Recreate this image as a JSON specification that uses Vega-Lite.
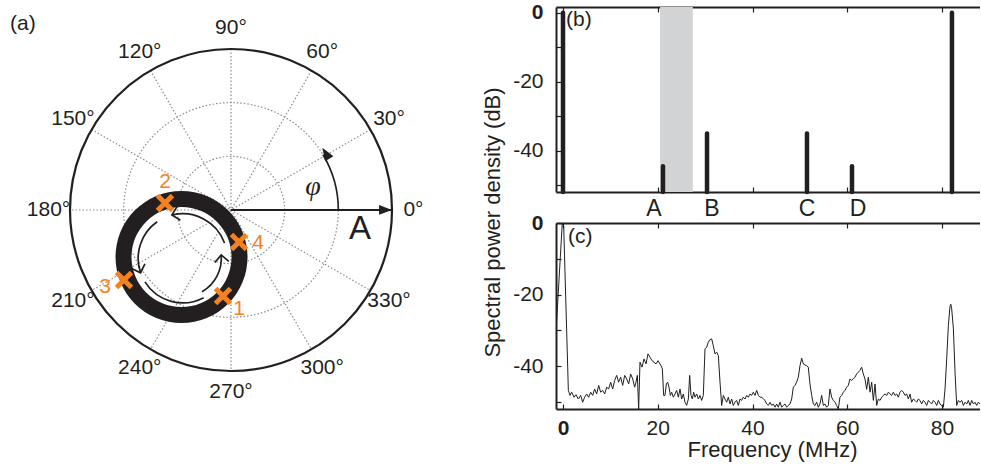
{
"$schema": "https://vega.github.io/schema/vega-lite/v6.json",
"background": "white",
"padding": {"top": 1, "left": 0, "right": 0, "bottom": 0},
"autosize": {"type": "pad"},
"spacing": 86,
"bounds": "flush",
"hconcat": [
{
"width": 470, "height": 461,
"encoding": {
 "x": {"field": "x", "type": "quantitative", "scale": {"domain": [-4.3043, 4.4534], "nice": false, "zero": false}, "axis": null},
 "y": {"field": "y", "type": "quantitative", "scale": {"domain": [-4.8075, 3.7826], "nice": false, "zero": false}, "axis": null}
},
"layer": [
 {"data": {"values": [
   {"x": 3, "y": 0, "x2": -3, "y2": 0},
   {"x": 2.598, "y": 1.5, "x2": -2.598, "y2": -1.5},
   {"x": 1.5, "y": 2.598, "x2": -1.5, "y2": -2.598},
   {"x": 0, "y": 3, "x2": 0, "y2": -3},
   {"x": -1.5, "y": 2.598, "x2": 1.5, "y2": -2.598},
   {"x": -2.598, "y": 1.5, "x2": 2.598, "y2": -1.5}]},
  "mark": {"type": "rule", "stroke": "#8c8c8c", "strokeDash": [1.5, 2], "strokeWidth": 1.2},
  "encoding": {"x2": {"field": "x2"}, "y2": {"field": "y2"}}},
 {"data": {"values": [{"x": 0, "y": 0, "r": 1, "t1": 0, "t2": 360}, {"x": 0, "y": 0, "r": 2, "t1": 0, "t2": 360}]},
  "mark": {"type": "arc", "filled": false, "stroke": "#8c8c8c", "strokeDash": [1.5, 2], "strokeWidth": 1.2},
  "encoding": {
   "theta": {"field": "t1", "type": "quantitative", "stack": null, "scale": {"domain": [90, -270], "range": [0, 6.283185307], "nice": false, "zero": false}},
   "theta2": {"field": "t2"},
   "radius": {"field": "r", "type": "quantitative", "scale": {"type": "linear", "domain": [0, 3], "range": [0, 161], "nice": false, "zero": false}}}},
 {"data": {"values": [{"x": 0, "y": 0, "r": 3, "t1": 0, "t2": 360}]},
  "mark": {"type": "arc", "filled": false, "stroke": "#231f20", "strokeWidth": 2.2},
  "encoding": {
   "theta": {"field": "t1", "type": "quantitative", "stack": null, "scale": {"domain": [90, -270], "range": [0, 6.283185307], "nice": false, "zero": false}},
   "theta2": {"field": "t2"},
   "radius": {"field": "r", "type": "quantitative", "scale": {"type": "linear", "domain": [0, 3], "range": [0, 161], "nice": false, "zero": false}}}},
 {"data": {"values": [{"x": -0.922, "y": -0.876, "ri": 0.932, "ro": 1.23, "t1": 0, "t2": 360}]},
  "mark": {"type": "arc", "fill": "#231f20", "stroke": null},
  "encoding": {
   "theta": {"field": "t1", "type": "quantitative", "stack": null, "scale": {"domain": [90, -270], "range": [0, 6.283185307], "nice": false, "zero": false}},
   "theta2": {"field": "t2"},
   "radius": {"field": "ro", "type": "quantitative", "scale": {"type": "linear", "domain": [0, 3], "range": [0, 161], "nice": false, "zero": false}},
   "radius2": {"field": "ri"}}},
 {"data": {"values": [
   {"x": -0.9, "y": -0.9, "r": 0.83, "t1": 20, "t2": 104},
   {"x": -0.9, "y": -0.9, "r": 0.83, "t1": 125, "t2": 199},
   {"x": -0.9, "y": -0.9, "r": 0.83, "t1": 212, "t2": 298},
   {"x": -0.9, "y": -0.9, "r": 0.72, "t1": 300, "t2": 365}]},
  "mark": {"type": "arc", "filled": false, "stroke": "#231f20", "strokeWidth": 1.7},
  "encoding": {
   "theta": {"field": "t1", "type": "quantitative", "stack": null, "scale": {"domain": [90, -270], "range": [0, 6.283185307], "nice": false, "zero": false}},
   "theta2": {"field": "t2"},
   "radius": {"field": "r", "type": "quantitative", "scale": {"type": "linear", "domain": [0, 3], "range": [0, 161], "nice": false, "zero": false}},
   "radius2": {"field": "r"}}},
 {"data": {"values": [{"x": -1.1008, "y": -0.0947, "rot": 166}, {"x": -1.6848, "y": -1.1702, "rot": 71}, {"x": -0.1827, "y": -0.8372, "rot": 265}]},
  "mark": {"type": "point", "shape": "M-1,-1L0,0L-1,1", "size": 196, "filled": false, "stroke": "#231f20", "strokeWidth": 1.7, "opacity": 1},
  "encoding": {"angle": {"field": "rot", "type": "quantitative", "scale": null}}},
 {"data": {"values": [{"x": 0, "y": 0, "x2": 2.88, "y2": 0}]},
  "mark": {"type": "rule", "stroke": "#231f20", "strokeWidth": 1.6},
  "encoding": {"x2": {"field": "x2"}, "y2": {"field": "y2"}}},
 {"data": {"values": [{"x": 0, "y": 0, "r": 2, "t1": 0, "t2": 31}]},
  "mark": {"type": "arc", "filled": false, "stroke": "#231f20", "strokeWidth": 1.6},
  "encoding": {
   "theta": {"field": "t1", "type": "quantitative", "stack": null, "scale": {"domain": [90, -270], "range": [0, 6.283185307], "nice": false, "zero": false}},
   "theta2": {"field": "t2"},
   "radius": {"field": "r", "type": "quantitative", "scale": {"type": "linear", "domain": [0, 3], "range": [0, 161], "nice": false, "zero": false}},
   "radius2": {"field": "r"}}},
 {"data": {"values": [{"x": 2.88, "y": 0, "rot": 0}, {"x": 1.767, "y": 1.057, "rot": 238}]},
  "mark": {"type": "point", "shape": "M1,0L-1,-0.75L-1,0.75Z", "size": 169, "filled": true, "fill": "#231f20", "strokeWidth": 0, "opacity": 1},
  "encoding": {"angle": {"field": "rot", "type": "quantitative", "scale": null}}},
 {"data": {"values": [{"x": -0.149, "y": -1.602}, {"x": -1.23, "y": 0.13}, {"x": -1.994, "y": -1.304}, {"x": 0.149, "y": -0.596}]},
  "mark": {"type": "point", "shape": "M-1,-1L1,1M1,-1L-1,1", "size": 225, "filled": false, "stroke": "#f5821f", "strokeWidth": 5, "opacity": 1}},
 {"data": {"values": [{"x": 0.149, "y": -1.845, "t": "1"}, {"x": -1.23, "y": 0.522, "t": "2"}, {"x": -2.348, "y": -1.435, "t": "3"}, {"x": 0.503, "y": -0.615, "t": "4"}]},
  "mark": {"type": "text", "font": "Liberation Sans", "fontSize": 21, "fill": "#f5821f", "align": "center", "baseline": "middle"},
  "encoding": {"text": {"field": "t"}}},
 {"data": {"values": [
   {"x": 0, "y": 0, "a": 0, "t": "0°"}, {"x": 0, "y": 0, "a": 30, "t": "30°"}, {"x": 0, "y": 0, "a": 60, "t": "60°"},
   {"x": 0, "y": 0, "a": 90, "t": "90°"}, {"x": 0, "y": 0, "a": 120, "t": "120°"}, {"x": 0, "y": 0, "a": 150, "t": "150°"},
   {"x": 0, "y": 0, "a": 180, "t": "180°"}, {"x": 0, "y": 0, "a": 210, "t": "210°"}, {"x": 0, "y": 0, "a": 240, "t": "240°"},
   {"x": 0, "y": 0, "a": 270, "t": "270°"}, {"x": 0, "y": 0, "a": 300, "t": "300°"}, {"x": 0, "y": 0, "a": 330, "t": "330°"}]},
  "mark": {"type": "text", "font": "Liberation Sans", "fontSize": 21, "fill": "#231f20", "align": "center", "baseline": "middle"},
  "encoding": {
   "theta": {"field": "a", "type": "quantitative", "stack": null, "scale": {"domain": [90, -270], "range": [0, 6.283185307], "nice": false, "zero": false}},
   "radius": {"datum": 3.4, "type": "quantitative", "scale": {"type": "linear", "domain": [0, 3], "range": [0, 161], "nice": false, "zero": false}},
   "text": {"field": "t"}}},
 {"data": {"values": [{"x": 2.404, "y": -0.354, "t": "A"}]},
  "mark": {"type": "text", "font": "Liberation Sans", "fontSize": 33, "fill": "#231f20", "align": "center", "baseline": "middle"},
  "encoding": {"text": {"field": "t"}}},
 {"data": {"values": [{"x": 1.528, "y": 0.4286, "t": "φ"}]},
  "mark": {"type": "text", "font": "Liberation Serif", "fontStyle": "italic", "fontSize": 28, "fill": "#231f20", "align": "center", "baseline": "middle"},
  "encoding": {"text": {"field": "t"}}},
 {"data": {"values": [{"x": -4.118, "y": 3.466, "t": "(a)"}]},
  "mark": {"type": "text", "font": "Liberation Sans", "fontSize": 21, "fill": "#231f20", "align": "left", "baseline": "middle"},
  "encoding": {"text": {"field": "t"}}}
]
},
{
"vconcat": [
 {
 "width": 424, "height": 185,
 "layer": [
  {"data": {"values": [{"f1": 20.5, "f2": 27.4}]},
   "mark": {"type": "rect", "color": "#d1d3d4"},
   "encoding": {
    "x": {"field": "f1", "type": "quantitative", "scale": {"domain": [-1.478, 88.02], "nice": false, "zero": false},
          "axis": {"orient": "bottom", "values": [0, 20, 40, 60, 80], "labels": false, "title": null, "tickSize": -5}},
    "x2": {"field": "f2"},
    "y": {"datum": 1.65, "type": "quantitative", "scale": {"domain": [-52, 1.65], "nice": false, "zero": false}, "axis": null},
    "y2": {"datum": -52}}},
  {"data": {"values": [{"f": 0, "db": 0}, {"f": 21.1, "db": -44.5}, {"f": 30.4, "db": -35}, {"f": 51.5, "db": -35}, {"f": 61.0, "db": -44.5}, {"f": 82.1, "db": 0}]},
   "mark": {"type": "rule", "color": "#231f20", "strokeWidth": 4.5, "strokeCap": "round"},
   "encoding": {
    "x": {"field": "f", "type": "quantitative", "scale": {"domain": [-1.478, 88.02], "nice": false, "zero": false},
          "axis": {"orient": "top", "values": [0, 20, 40, 60, 80], "labels": false, "title": null, "tickSize": -5}},
    "y": {"field": "db", "type": "quantitative", "scale": {"domain": [-52, 1.65], "nice": false, "zero": false},
          "axis": {"orient": "left", "values": [0, -10, -20, -30, -40, -50], "labelExpr": "datum.value % 20 === 0 ? '' + datum.value : ''",
                   "labelFontWeight": {"condition": {"test": "datum.value === 0", "value": "bold"}, "value": "normal"},
                   "tickSize": -5, "labelPadding": 18,
                   "title": "Spectral power density (dB)", "titleX": -64, "titleY": 215, "titleBaseline": "middle", "titleAlign": "center", "titleAngle": -90}},
    "y2": {"datum": -52}}},
  {"data": {"values": [{"f": 19.2, "t": "A"}, {"f": 31.45, "t": "B"}, {"f": 51.5, "t": "C"}, {"f": 62.27, "t": "D"}]},
   "mark": {"type": "text", "font": "Liberation Sans", "fontSize": 23, "fill": "#231f20", "align": "center", "baseline": "middle"},
   "encoding": {
    "x": {"field": "f", "type": "quantitative", "scale": {"domain": [-1.478, 88.02], "nice": false, "zero": false}, "axis": null},
    "y": {"datum": -56.8, "type": "quantitative", "scale": {"domain": [-52, 1.65], "nice": false, "zero": false}, "axis": null},
    "text": {"field": "t"}}},
  {"data": {"values": [{}]},
   "mark": {"type": "text", "text": "(b)", "font": "Liberation Sans", "fontSize": 21, "fill": "#231f20", "align": "left", "baseline": "middle"},
   "encoding": {
    "x": {"datum": 0.63, "type": "quantitative", "scale": {"domain": [-1.478, 88.02], "nice": false, "zero": false}, "axis": null},
    "y": {"datum": -2.0, "type": "quantitative", "scale": {"domain": [-52, 1.65], "nice": false, "zero": false}, "axis": null}}}
 ],
 "resolve": {"axis": {"x": "independent", "y": "independent"}}
 },
 {
 "width": 424, "height": 186,
 "layer": [
  {"data": {"values": [
{"f":-1.478,"db":-30.5},{"f":-0.15,"db":0},{"f":0.15,"db":-1},{"f":1.13,"db":-46.8},{"f":1.48,"db":-48.2},{"f":1.83,"db":-47.3},
{"f":2.32,"db":-48.7},{"f":2.74,"db":-48.0},{"f":3.24,"db":-49.2},{"f":3.73,"db":-48.2},{"f":4.15,"db":-50.1},{"f":4.57,"db":-48.7},
{"f":5.00,"db":-47.8},{"f":5.42,"db":-48.7},{"f":5.84,"db":-47.3},{"f":6.26,"db":-48.2},{"f":6.68,"db":-46.4},{"f":7.11,"db":-47.8},
{"f":7.53,"db":-45.4},{"f":7.95,"db":-47.3},{"f":8.37,"db":-46.8},{"f":8.80,"db":-47.8},{"f":9.22,"db":-45.9},{"f":9.64,"db":-46.4},
{"f":10.06,"db":-44.5},{"f":10.48,"db":-46.4},{"f":10.91,"db":-44.0},{"f":11.33,"db":-42.6},{"f":11.75,"db":-44.5},{"f":12.17,"db":-43.1},
{"f":12.60,"db":-45.4},{"f":13.02,"db":-42.6},{"f":13.44,"db":-43.6},{"f":13.86,"db":-45.0},{"f":14.28,"db":-42.2},{"f":14.71,"db":-43.6},
{"f":15.13,"db":-45.9},{"f":15.41,"db":-44.5},{"f":15.69,"db":-42.6},{"f":15.97,"db":-52},{"f":16.25,"db":-38.9},{"f":16.68,"db":-40.3},
{"f":17.10,"db":-38.0},{"f":17.52,"db":-39.4},{"f":17.94,"db":-36.6},{"f":18.36,"db":-37.5},{"f":18.79,"db":-38.5},{"f":19.21,"db":-38.9},
{"f":19.63,"db":-39.4},{"f":20.05,"db":-38.5},{"f":20.47,"db":-39.4},{"f":20.69,"db":-39.9},{"f":20.97,"db":-40.8},{"f":21.25,"db":-48.2},
{"f":21.53,"db":-48.2},{"f":21.81,"db":-45.0},{"f":22.09,"db":-44.5},{"f":22.38,"db":-45.9},{"f":22.66,"db":-48.2},{"f":22.94,"db":-47.3},
{"f":23.29,"db":-48.7},{"f":23.64,"db":-47.8},{"f":23.99,"db":-46.8},{"f":24.35,"db":-48.7},{"f":24.70,"db":-46.4},{"f":25.05,"db":-49.2},
{"f":25.40,"db":-47.8},{"f":25.75,"db":-50.1},{"f":26.10,"db":-51.0},{"f":26.46,"db":-49.2},{"f":26.74,"db":-42.6},{"f":27.02,"db":-48.2},
{"f":27.30,"db":-49.2},{"f":27.58,"db":-47.3},{"f":27.86,"db":-48.7},{"f":28.22,"db":-47.8},{"f":28.57,"db":-49.2},{"f":28.92,"db":-48.2},
{"f":29.27,"db":-49.6},{"f":29.62,"db":-48.2},{"f":29.97,"db":-35.2},{"f":30.33,"db":-34.7},{"f":30.68,"db":-33.3},{"f":31.03,"db":-32.6},
{"f":31.38,"db":-32.4},{"f":31.73,"db":-34.3},{"f":32.08,"db":-36.6},{"f":32.44,"db":-36.1},{"f":32.79,"db":-37.1},{"f":33.14,"db":-44.5},
{"f":33.49,"db":-51.0},{"f":33.84,"db":-48.2},{"f":34.19,"db":-49.2},{"f":34.55,"db":-50.1},{"f":34.90,"db":-48.7},{"f":35.25,"db":-50.6},
{"f":35.60,"db":-49.2},{"f":35.95,"db":-51.0},{"f":36.31,"db":-50.1},{"f":36.66,"db":-49.6},{"f":37.01,"db":-51.0},{"f":37.36,"db":-49.2},
{"f":37.71,"db":-49.6},{"f":38.06,"db":-48.7},{"f":38.42,"db":-49.2},{"f":38.77,"db":-48.2},{"f":39.12,"db":-48.7},{"f":39.47,"db":-47.8},
{"f":39.82,"db":-48.2},{"f":40.18,"db":-47.3},{"f":40.53,"db":-48.2},{"f":40.88,"db":-46.8},{"f":41.23,"db":-48.2},{"f":41.58,"db":-48.7},
{"f":41.94,"db":-48.7},{"f":42.29,"db":-49.2},{"f":42.64,"db":-49.6},{"f":42.99,"db":-50.6},{"f":43.34,"db":-51.0},{"f":43.69,"db":-50.1},
{"f":44.05,"db":-51.0},{"f":44.40,"db":-50.6},{"f":44.75,"db":-51.5},{"f":45.10,"db":-50.6},{"f":45.45,"db":-51.5},{"f":45.80,"db":-50.1},
{"f":46.16,"db":-51.5},{"f":46.51,"db":-51.0},{"f":46.86,"db":-50.6},{"f":47.21,"db":-51.5},{"f":47.56,"db":-51.0},{"f":47.91,"db":-50.6},
{"f":48.27,"db":-49.2},{"f":48.62,"db":-45.9},{"f":48.97,"db":-45.4},{"f":49.32,"db":-44.5},{"f":49.67,"db":-43.1},{"f":50.02,"db":-39.9},
{"f":50.38,"db":-37.8},{"f":50.73,"db":-39.4},{"f":51.08,"db":-39.7},{"f":51.43,"db":-39.9},{"f":51.78,"db":-40.3},{"f":52.13,"db":-45.0},
{"f":52.49,"db":-48.2},{"f":52.84,"db":-50.6},{"f":53.19,"db":-51.0},{"f":53.54,"db":-50.1},{"f":53.89,"db":-51.5},{"f":54.24,"db":-50.6},
{"f":54.60,"db":-48.2},{"f":54.95,"db":-51.0},{"f":55.30,"db":-50.6},{"f":55.65,"db":-51.5},{"f":56.00,"db":-51.0},{"f":56.35,"db":-46.4},
{"f":56.71,"db":-48.7},{"f":57.06,"db":-49.6},{"f":57.41,"db":-50.1},{"f":57.76,"db":-51.0},{"f":58.11,"db":-52},{"f":58.46,"db":-48.7},
{"f":58.82,"db":-48.2},{"f":59.17,"db":-47.3},{"f":59.52,"db":-46.8},{"f":59.87,"db":-45.9},{"f":60.22,"db":-45.4},{"f":60.58,"db":-43.6},
{"f":60.93,"db":-44.0},{"f":61.28,"db":-43.6},{"f":61.63,"db":-43.1},{"f":61.98,"db":-42.2},{"f":62.33,"db":-41.7},{"f":62.69,"db":-41.2},
{"f":63.04,"db":-40.3},{"f":63.39,"db":-42.2},{"f":63.74,"db":-43.6},{"f":64.10,"db":-46.5},{"f":64.45,"db":-43.1},{"f":64.81,"db":-47.3},
{"f":65.16,"db":-44.5},{"f":65.51,"db":-49.6},{"f":65.86,"db":-45.0},{"f":66.21,"db":-51.0},{"f":66.56,"db":-49.2},{"f":66.92,"db":-49.6},
{"f":67.27,"db":-48.7},{"f":67.62,"db":-48.2},{"f":67.97,"db":-47.8},{"f":68.32,"db":-48.2},{"f":68.68,"db":-47.3},{"f":69.03,"db":-47.8},
{"f":69.38,"db":-48.2},{"f":69.73,"db":-47.3},{"f":70.08,"db":-48.2},{"f":70.43,"db":-47.8},{"f":70.79,"db":-48.7},{"f":71.14,"db":-47.3},
{"f":71.49,"db":-46.8},{"f":71.84,"db":-47.3},{"f":72.19,"db":-48.2},{"f":72.55,"db":-47.8},{"f":72.90,"db":-49.2},{"f":73.25,"db":-47.8},
{"f":73.60,"db":-50.1},{"f":73.95,"db":-49.2},{"f":74.30,"db":-49.6},{"f":74.66,"db":-50.1},{"f":75.01,"db":-49.2},{"f":75.36,"db":-49.6},
{"f":75.71,"db":-50.6},{"f":76.06,"db":-49.6},{"f":76.42,"db":-50.1},{"f":76.77,"db":-51.0},{"f":77.12,"db":-49.6},{"f":77.47,"db":-50.1},
{"f":77.82,"db":-50.6},{"f":78.17,"db":-49.6},{"f":78.53,"db":-50.1},{"f":78.88,"db":-51.0},{"f":79.23,"db":-49.6},{"f":79.58,"db":-50.6},
{"f":79.93,"db":-51.0},{"f":80.29,"db":-51.5},{"f":80.64,"db":-46.4},{"f":80.99,"db":-38.0},{"f":81.34,"db":-28.7},{"f":81.69,"db":-23.3},
{"f":81.85,"db":-22.7},{"f":82.05,"db":-24.0},{"f":82.40,"db":-29.6},{"f":82.75,"db":-41.7},{"f":83.10,"db":-51.0},{"f":83.45,"db":-49.6},
{"f":83.81,"db":-50.1},{"f":84.16,"db":-49.6},{"f":84.51,"db":-51.0},{"f":84.86,"db":-50.1},{"f":85.21,"db":-50.6},{"f":85.56,"db":-49.6},
{"f":85.92,"db":-51.0},{"f":86.27,"db":-49.6},{"f":86.62,"db":-50.6},{"f":86.97,"db":-50.1},{"f":87.32,"db":-51.0},{"f":87.68,"db":-50.1},
{"f":88.03,"db":-50.6}
   ]},
   "mark": {"type": "line", "color": "#231f20", "strokeWidth": 1, "clip": true},
   "encoding": {
    "x": {"field": "f", "type": "quantitative", "scale": {"domain": [-1.478, 88.02], "nice": false, "zero": false},
          "axis": {"orient": "bottom", "values": [0, 20, 40, 60, 80], "labelExpr": "'' + datum.value",
                   "labelFontWeight": {"condition": {"test": "datum.value === 0", "value": "bold"}, "value": "normal"},
                   "tickSize": -5, "labelPadding": 13,
                   "title": "Frequency (MHz)", "titleX": 216, "titleY": 40, "titleBaseline": "middle", "titleAlign": "center"}},
    "y": {"field": "db", "type": "quantitative", "scale": {"domain": [-52, 0], "nice": false, "zero": false},
          "axis": {"orient": "left", "values": [0, -10, -20, -30, -40, -50], "labelExpr": "datum.value % 20 === 0 ? '' + datum.value : ''",
                   "labelFontWeight": {"condition": {"test": "datum.value === 0", "value": "bold"}, "value": "normal"},
                   "tickSize": -5, "labelPadding": 18, "title": null}}}},
  {"data": {"values": [{}]},
   "mark": {"type": "text", "text": "(c)", "font": "Liberation Sans", "fontSize": 21, "fill": "#231f20", "align": "left", "baseline": "middle"},
   "encoding": {
    "x": {"datum": 1.06, "type": "quantitative", "scale": {"domain": [-1.478, 88.02], "nice": false, "zero": false},
          "axis": {"orient": "top", "values": [0, 20, 40, 60, 80], "labels": false, "title": null, "tickSize": -5}},
    "y": {"datum": -3.9, "type": "quantitative", "scale": {"domain": [-52, 0], "nice": false, "zero": false}, "axis": null}}}
 ],
 "resolve": {"axis": {"x": "independent", "y": "independent"}}
 }
],
"spacing": 31,
"bounds": "flush"
}
],
"config": {
 "view": {"stroke": null},
 "font": "Liberation Sans",
 "axis": {"grid": false, "domainColor": "#231f20", "domainWidth": 2, "tickColor": "#231f20", "tickWidth": 1.2,
          "labelFont": "Liberation Sans", "labelFontSize": 21, "labelColor": "#231f20",
          "titleFont": "Liberation Sans", "titleFontSize": 22, "titleFontWeight": "normal", "titleColor": "#231f20",
          "labelFlush": false, "labelOverlap": false}
}
}
